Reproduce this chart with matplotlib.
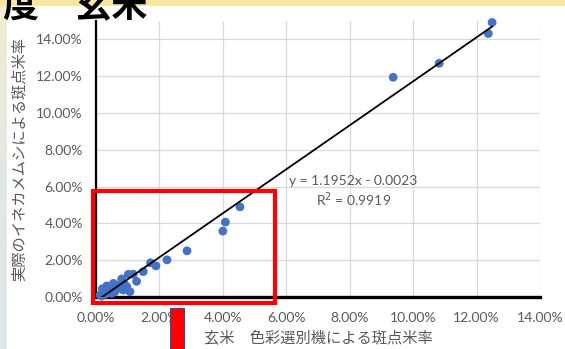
import matplotlib.pyplot as plt
import numpy as np
from matplotlib.patches import Rectangle
from matplotlib.ticker import MultipleLocator, PercentFormatter

plt.rcParams["font.family"] = ["Lato", "Noto Sans CJK JP", "DejaVu Sans"]

# colour-sorter spotted-grain rate (x) vs actual stink-bug damage rate (y), fractions
sorter_rate = [
    0.1249, 0.1237, 0.1082, 0.0937,
    0.0454, 0.0408, 0.0400, 0.0287, 0.0224, 0.0189, 0.0172,
    0.0149, 0.0128, 0.0117, 0.0102, 0.0097, 0.0081, 0.0070, 0.0086, 0.0107,
    0.0055, 0.0044, 0.0034, 0.0023, 0.0013, 0.0060, 0.0030, 0.0050,
    0.0065, 0.0040, 0.0020, 0.0090, 0.0018,
]
actual_rate = [
    0.1492, 0.1432, 0.1270, 0.1194,
    0.0490, 0.0407, 0.0358, 0.0251, 0.0202, 0.0169, 0.0186,
    0.0138, 0.0085, 0.0124, 0.0123, 0.0056, 0.0098, 0.0061, 0.0038, 0.0029,
    0.0074, 0.0042, 0.0060, 0.0029, 0.0011, 0.0029, 0.0015, 0.0020,
    0.0045, 0.0055, 0.0045, 0.0070, 0.0005,
]
slope, intercept = 1.1952, -0.0023
r_squared = 0.9919

x_title = "玄米　色彩選別機による斑点米率"
y_title = "実際のイネカメムシによる斑点米率"
slide_title = "度　玄米"

W, H = 565, 349
fig = plt.figure(figsize=(W / 100, H / 100), dpi=100)
fig.patch.set_facecolor("white")

# slide decoration: yellow band on top, pale strip on the left
fig.patches.append(Rectangle((0, 1 - 5.5 / H), 1, 5.5 / H, transform=fig.transFigure,
                             facecolor="#f9e5a2", edgecolor="none", zorder=5))
strip = fig.add_axes([0, 0, 6.5 / W, 1 - 5.5 / H])
grad = np.linspace(0, 1, 100)[:, None]
strip.imshow(grad, aspect="auto", cmap=plt.matplotlib.colors.LinearSegmentedColormap.from_list(
    "s", ["#f2ecd2", "#e2e9e4", "#dde6ea"]))
strip.axis("off")

ax = fig.add_axes([96 / W, 52 / H, 444 / W, 276 / H])
ax.set_xlim(0, 0.14)
ax.set_ylim(0, 0.15)
ax.xaxis.set_major_locator(MultipleLocator(0.02))
ax.yaxis.set_major_locator(MultipleLocator(0.02))
ax.xaxis.set_major_formatter(PercentFormatter(xmax=1, decimals=2))
ax.yaxis.set_major_formatter(PercentFormatter(xmax=1, decimals=2))
ax.grid(True, color="#d9d9d9", linewidth=0.9)
ax.set_axisbelow(True)
for side in ("top", "right"):
    ax.spines[side].set_visible(False)
ax.spines["left"].set_linewidth(1.6)
ax.spines["bottom"].set_linewidth(2.4)
ax.spines["left"].set_color("black")
ax.spines["bottom"].set_color("black")
ax.tick_params(length=0, labelsize=10, labelcolor="#595959")
ax.tick_params(axis="x", pad=11)
ax.tick_params(axis="y", pad=9.5)

ax.scatter(sorter_rate, actual_rate, s=40, color="#4472c4", edgecolors="none",
           zorder=3, clip_on=False)
xs = np.array([min(sorter_rate), max(sorter_rate)])
ax.plot(xs, slope * xs + intercept, color="black", linewidth=1.3, zorder=4)

ax.text(0.0812, 0.0628, f"y = {slope}x - {abs(intercept)}", ha="center", va="center",
        fontsize=10, color="#595959")
ax.text(0.0812, 0.0528, f"R$^2$ = {r_squared}", ha="center", va="center",
        fontsize=10, color="#595959")

ax.set_xlabel(x_title, fontsize=11, color="#595959", labelpad=3.5,
              family=["Noto Sans CJK JP", "DejaVu Sans"])
ax.set_ylabel(y_title, fontsize=11, color="#595959", labelpad=6,
              family=["Noto Sans CJK JP", "DejaVu Sans"])

# highlight box around the low-rate region
ax.add_patch(Rectangle((-0.0011, -0.0033), 0.0574, 0.0611, fill=False,
                       edgecolor="#ff0000", linewidth=3, clip_on=False, zorder=6))
fig.patches.append(Rectangle((170 / W, 0), 14 / W, 41 / H, transform=fig.transFigure,
                             facecolor="#ff0000", edgecolor="#2f4f8f", linewidth=0.8, zorder=6))

fig.text(3 / W, 1 - 17 / H, slide_title, fontsize=26, fontweight="bold", color="black",
         family=["Noto Sans CJK JP", "DejaVu Sans"], va="baseline", zorder=7)

fig.savefig("out.png", dpi=100)
